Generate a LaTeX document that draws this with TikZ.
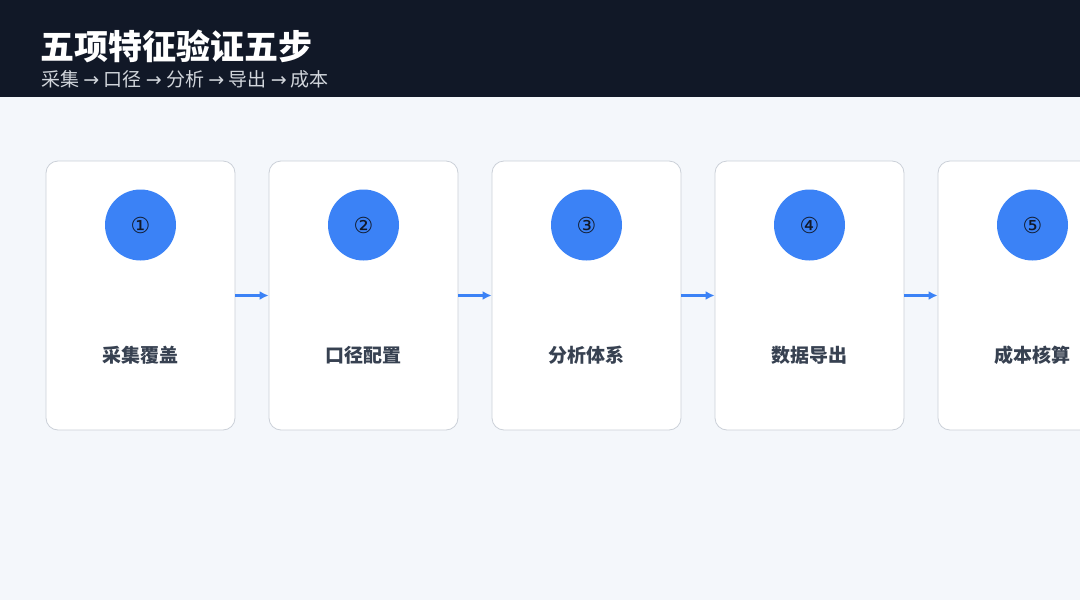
\documentclass[tikz,border=0pt]{standalone}
\usepackage{fontspec}
\setmainfont{Noto Sans CJK SC}
\newfontfamily\symfont{DejaVu Sans}
\usetikzlibrary{positioning, arrows.meta}
\definecolor{headbg}{HTML}{111827}
\definecolor{pagebg}{HTML}{F4F7FB}
\definecolor{stepblue}{HTML}{3B82F6}
\definecolor{cardline}{HTML}{CBD0D8}
\definecolor{labelgray}{HTML}{374151}
\definecolor{subgray}{HTML}{D1D5DB}

\begin{document}
\begin{tikzpicture}[x=1pt, y=-1pt,
    card/.style={draw=cardline, fill=white, rounded corners=12pt, minimum width=189pt, minimum height=269pt, inner sep=0pt, line width=0.8pt},
    badge/.style={circle, fill=stepblue, minimum size=71pt, inner sep=0pt, font=\symfont\fontsize{22}{22}\selectfont, text=headbg},
    steplabel/.style={font=\bfseries\fontsize{19}{19}\selectfont, text=labelgray},
    flow/.style={draw=stepblue, line width=2.2pt, -{Latex[length=9pt,width=9pt]}}]
    % Page and header
    \useasboundingbox (0,0) rectangle (1080,600);
    \clip (0,0) rectangle (1080,600);
    \fill[pagebg] (0,0) rectangle (1080,600);
    \fill[headbg] (0,0) rectangle (1080,97);
    \node[anchor=west, text=white, font=\bfseries\fontsize{34}{34}\selectfont, inner sep=0pt] (Title) at (40,46) {五项特征验证五步};
    \node[anchor=west, text=subgray, font=\fontsize{19}{19}\selectfont, inner sep=0pt] (Subtitle) at (41,79) {采集 {\symfont →} 口径 {\symfont →} 分析 {\symfont →} 导出 {\symfont →} 成本};

    % Step cards
    \foreach \i/\name [evaluate=\i as \x using {140.5+223*(\i-1)}] in {1/采集覆盖, 2/口径配置, 3/分析体系, 4/数据导出, 5/成本核算} {
        \node[card] (Card\i) at (\x,295.5) {};
        \node[badge] (Badge\i) at (\x,225) {\ifcase\i\or ①\or ②\or ③\or ④\or ⑤\fi};
        \node[steplabel] (Label\i) at (\x,355) {\name};
    }

    % Connectors
    \foreach \i [count=\j from 2] in {1,...,4}
        \draw[flow] (Card\i.east) -- (Card\j.west);
\end{tikzpicture}
\end{document}
